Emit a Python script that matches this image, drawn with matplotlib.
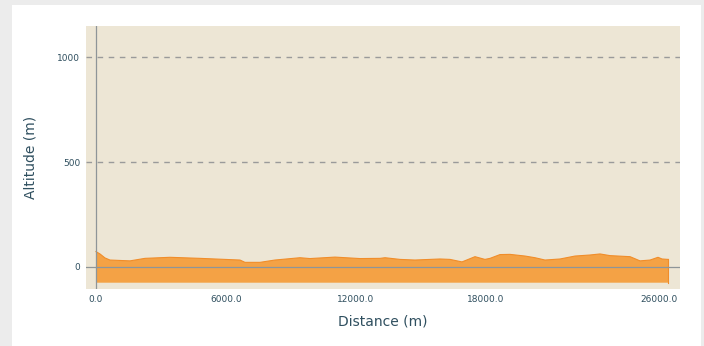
import numpy as np
import matplotlib.pyplot as plt
from matplotlib.patches import Rectangle

# elevation profile along the route
distance = [0, 185, 415, 646, 1570, 2260, 3415, 4800, 6645, 6875, 7570, 8260,
            9415, 9875, 11030, 12185, 13110, 13340, 14030, 14720, 15875, 16340,
            16890, 17490, 17950, 18185, 18645, 19105, 19800, 20260, 20720,
            21415, 22105, 22800, 23260, 23720, 24645, 25105, 25570, 25935,
            26120, 26400]
altitude = [73, 62, 43, 33, 29, 41, 46, 41, 33, 22, 22, 33,
            44, 40, 47, 40, 41, 44, 36, 33, 38, 36,
            24, 49, 36, 41, 59, 60, 52, 44, 33,
            38, 52, 57, 62, 54, 49, 29, 33, 46,
            38, 36]
base_altitude = -75

x_ticks = [0, 6000, 12000, 18000, 26000]
y_ticks = [0, 500, 1000]

text_color = "#2f4f5f"

fig = plt.figure(figsize=(7.04, 3.46), dpi=100)
fig.patch.set_facecolor("#ececec")
# white card behind the plot
fig.patches.append(Rectangle((12 / 704, 0), 689 / 704, 1 - 5 / 346,
                             transform=fig.transFigure, facecolor="white",
                             edgecolor="none", zorder=-1))

ax = fig.add_axes([86 / 704, 1 - 289 / 346, 594 / 704, 263 / 346])
ax.set_facecolor("#ede6d5")

ax.fill_between(distance, altitude, base_altitude, color="#f4a245",
                edgecolor="none", zorder=2)
ax.plot(distance, altitude, color="#f08d2a", linewidth=0.8, zorder=3)
ax.plot([distance[-1], distance[-1]], [base_altitude, altitude[-1]],
        color="#f08d2a", linewidth=0.8, zorder=3)

ax.axhline(0, color="#8e9598", linewidth=0.9, zorder=4)
ax.axvline(0, color="#8e9598", linewidth=0.9, zorder=4)
for y in y_ticks[1:]:
    ax.axhline(y, color="#9a9a9a", linewidth=1.0, linestyle=(0, (4, 4)), zorder=1)

ax.set_xlim(-460, 26950)
ax.set_ylim(-105, 1148)
ax.set_xticks(x_ticks)
ax.set_xticklabels([f"{v:.1f}" for v in x_ticks])
ax.set_yticks(y_ticks)
ax.tick_params(axis="both", length=0, labelsize=6.5, labelcolor=text_color)
ax.tick_params(axis="x", pad=4)
ax.tick_params(axis="y", pad=4)
for s in ax.spines.values():
    s.set_visible(False)

ax.set_xlabel("Distance (m)", fontsize=10, color=text_color, labelpad=8)
ax.set_ylabel("Altitude (m)", fontsize=10, color=text_color, labelpad=14)

fig.savefig("out.png", dpi=100, facecolor=fig.get_facecolor())
